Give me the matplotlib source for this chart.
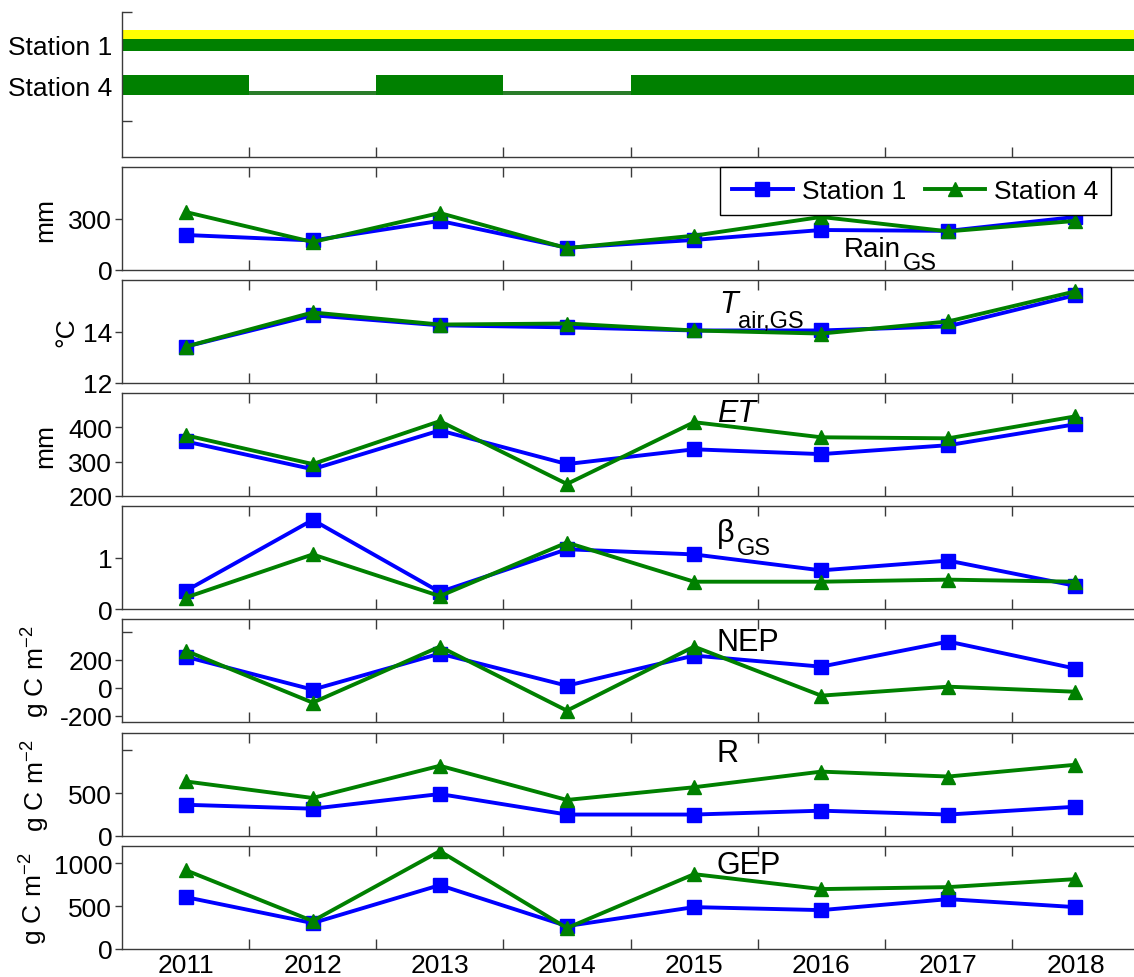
import numpy as np
import matplotlib
matplotlib.use("Agg")
import matplotlib.pyplot as plt

plt.rcParams['font.family'] = 'Liberation Sans'
plt.rcParams['mathtext.fontset'] = 'custom'
plt.rcParams['mathtext.rm'] = 'Liberation Sans'
plt.rcParams['mathtext.it'] = 'Liberation Sans:italic'

# data
years = np.arange(2011, 2019)
stations = ['Station 1', 'Station 4']

rain_s1 = [204, 172, 286, 130, 175, 233, 228, 309]
rain_s4 = [338, 163, 332, 127, 200, 309, 225, 286]
tair_s1 = [13.41, 14.63, 14.24, 14.16, 14.04, 14.04, 14.20, 15.41]
tair_s4 = [13.41, 14.74, 14.27, 14.31, 14.04, 13.92, 14.39, 15.56]
et_s1 = [359, 278, 391, 293, 336, 322, 348, 409]
et_s4 = [377, 293, 418, 235, 415, 371, 368, 432]
beta_s1 = [0.35, 1.73, 0.33, 1.16, 1.06, 0.75, 0.94, 0.45]
beta_s4 = [0.22, 1.06, 0.25, 1.29, 0.53, 0.53, 0.57, 0.53]
nep_s1 = [221, -14, 243, 14, 229, 150, 329, 136]
nep_s4 = [264, -107, 293, -164, 293, -57, 7, -29]
r_s1 = [364, 318, 489, 250, 250, 295, 250, 341]
r_s4 = [636, 443, 818, 420, 568, 750, 693, 830]
gep_s1 = [605, 302, 744, 267, 488, 453, 581, 488]
gep_s4 = [919, 326, 1140, 244, 872, 698, 721, 814]

# data availability (year boundaries)
st1_on = [(2011, 2019)]
st4_on = [(2011, 2012), (2013, 2014), (2015, 2019)]
st4_gap = [(2012, 2013), (2014, 2015)]

BLUE = '#0000ff'
GREEN = '#008000'
SPINE = '#3a3a3a'
W, H = 1134, 978

fig = plt.figure(figsize=(W / 100, H / 100), dpi=100)


def px_axes(top, bottom):
    return fig.add_axes([122 / W, 1 - bottom / H, 1017 / W, (bottom - top) / H])


def style_axes(ax):
    for s in ax.spines.values():
        s.set_color(SPINE)
        s.set_linewidth(1)
    ax.set_xlim(2011, 2019)
    ax.set_xticks(np.arange(2012, 2019))
    ax.tick_params(axis='x', which='major', direction='in', length=7, width=1,
                   color=SPINE, top=True, labelbottom=False)
    ax.tick_params(axis='y', which='major', direction='out', length=5, width=1,
                   color=SPINE, pad=2, labelsize=19)
    ax.tick_params(axis='y', which='minor', direction='in', length=7, width=1,
                   color=SPINE)


def label(ax, x, y, main, sub='', size=22, style='normal', dx=1, drop=-5):
    t = ax.text(x, y, main, transform=ax.transAxes, fontsize=size,
                va='baseline', ha='left', style=style)
    if sub:
        ax.annotate(sub, xy=(1, 0), xycoords=t, xytext=(dx, drop),
                    textcoords='offset points', fontsize=17, va='baseline')


# top panel: availability
ax0 = px_axes(13, 158)
style_axes(ax0)
ax0.spines['top'].set_visible(False)
ax0.spines['right'].set_visible(False)
ax0.tick_params(axis='x', top=False)
ax0.set_ylim(0, 4)
for a, b in st1_on:
    ax0.barh(3.09, b - a, left=a, height=0.33, color=GREEN, linewidth=0)
    ax0.barh(3.38, b - a, left=a, height=0.25, color='#ffff00', linewidth=0)
for a, b in st4_on:
    ax0.barh(1.985, b - a, left=a, height=0.55, color=GREEN, linewidth=0)
for a, b in st4_gap:
    ax0.barh(1.77, b - a, left=a, height=0.1, color='#2a7d2a', linewidth=0)
ax0.set_yticks([1.985, 3.09], ['Station 4', 'Station 1'])
ax0.set_yticks([1, 4], minor=True)
ax0.tick_params(axis='y', which='major', length=0, pad=7)

panels = [
    (rain_s1, rain_s4, (0, 600), [0, 300], [], 'mm', 57),
    (tair_s1, tair_s4, (12, 16), [12, 14], [], '\u00b0C', 78),
    (et_s1, et_s4, (200, 500), [200, 300, 400], [], 'mm', 57),
    (beta_s1, beta_s4, (0, 2), [0, 1], [], '', 57),
    (nep_s1, nep_s4, (-245, 490), [-200, 0, 200], [400], r'g C m$^{\mathrm{-2}}$', 52),
    (r_s1, r_s4, (0, 1200), [0, 500], [1000], r'g C m$^{\mathrm{-2}}$', 52),
    (gep_s1, gep_s4, (0, 1200), [0, 500, 1000], [], r'g C m$^{\mathrm{-2}}$', 50),
]

x = years + 0.5
bottoms = [271, 384, 497, 610, 723, 837, 950]
axes = []
for i, (s1, s4, ylim, yt, ymin, ylab, ylx) in enumerate(panels):
    bot = bottoms[i]
    ax = px_axes(bot - 103, bot)
    style_axes(ax)
    h1, = ax.plot(x, s1, '-s', color=BLUE, lw=2.8, ms=10, mec=BLUE, mfc=BLUE)
    h4, = ax.plot(x, s4, '-^', color=GREEN, lw=2.8, ms=10.5, mec=GREEN, mfc=GREEN)
    ax.set_ylim(*ylim)
    ax.set_yticks(yt, [str(v) for v in yt])
    ax.set_yticks(ymin, minor=True)
    if ylab:
        ax.set_ylabel(ylab, fontsize=19)
        ax.yaxis.set_label_coords((ylx - 122) / 1017, 0.5)
    axes.append(ax)
    if i == 0:
        leg = ax.legend([h1, h4], stations, ncol=2, loc='upper left',
                        bbox_to_anchor=(720 / W, 1 - 168 / H),
                        bbox_transform=fig.transFigure, fontsize=19,
                        fancybox=False, edgecolor='black', framealpha=1,
                        borderaxespad=0, borderpad=0.45, handlelength=2.3,
                        handletextpad=0.35, columnspacing=0.7)
        leg.get_frame().set_linewidth(1)
    if i == len(panels) - 1:
        ax.set_xticks(x, [str(y) for y in years], minor=True)
        ax.tick_params(axis='x', which='minor', length=0, pad=3, labelsize=19)

label(axes[0], 0.71, 0.136, 'Rain', 'GS', size=20)
label(axes[1], 0.587, 0.69, 'T', 'air,GS', style='italic', dx=0, drop=-6)
label(axes[2], 0.585, 0.73, 'ET', style='italic')
label(axes[3], 0.585, 0.66, '\u03b2', 'GS', dx=2, drop=-4)
label(axes[4], 0.585, 0.696, 'NEP')
label(axes[5], 0.585, 0.73, 'R')
label(axes[6], 0.585, 0.735, 'GEP')

fig.savefig('out.png', dpi=100)
